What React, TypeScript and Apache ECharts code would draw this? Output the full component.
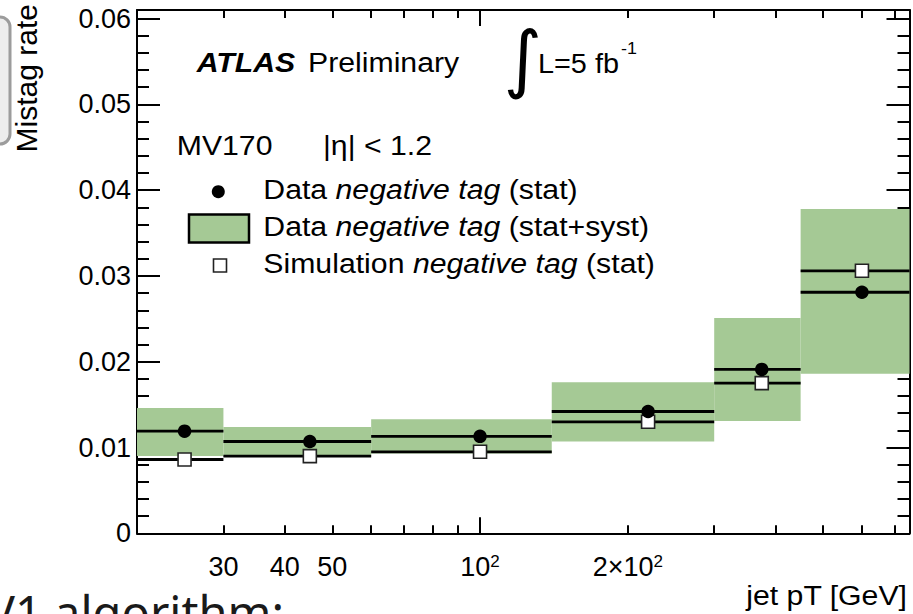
import React, { useEffect, useRef } from 'react';
import * as echarts from 'echarts';

// ---- data ----
const binLow = [20, 30, 60, 140, 300, 450];
const binHigh = [30, 60, 140, 300, 450, 750];
const binCenter = [25, 45, 100, 220, 375, 600];
const dataRate = [0.0119, 0.0107, 0.0113, 0.0142, 0.0191, 0.0281];
const simRate = [0.0086, 0.009, 0.0095, 0.013, 0.0175, 0.0306];
const bandLow = [0.009, 0.0089, 0.0093, 0.0107, 0.0131, 0.0186];
const bandHigh = [0.0146, 0.0124, 0.0133, 0.0176, 0.0251, 0.0378];

// ---- axes ----
const xMin = 20;
const xMax = 750;
const yMin = 0;
const yMax = 0.061;
const xShortTicks = [30, 40, 50, 60, 70, 80, 90, 200, 300, 400, 500, 600, 700];
const xLongTicks = [100];
const xLabelValues = [30, 40, 50, 100, 200];
const xLabelTexts = ['30', '40', '50', '{b|10}{s|2}', '{b|2×10}{s|2}'];
const yMajorTicks = [0, 0.01, 0.02, 0.03, 0.04, 0.05, 0.06];
const yLabelTexts = ['0', '0.01', '0.02', '0.03', '0.04', '0.05', '0.06'];
const yMinorTicks = [
  0.002, 0.004, 0.006, 0.008, 0.012, 0.014, 0.016, 0.018, 0.022, 0.024, 0.026, 0.028,
  0.032, 0.034, 0.036, 0.038, 0.042, 0.044, 0.046, 0.048, 0.052, 0.054, 0.056, 0.058,
];

const FONT = "'Liberation Sans', Arial, Helvetica, sans-serif";
const BAND = '#a5c995';
const INK = '#000';

function findLabel(values: number[], texts: string[], v: number) {
  const i = values.findIndex((t) => Math.abs(t - v) <= Math.abs(t) * 1e-3 + 1e-9);
  return i >= 0 ? texts[i] : '';
}

const tickLine = { color: INK, width: 2 };

function xAxisDef(position: 'top' | 'bottom', ticks: number[], len: number, showLine: boolean, labels: boolean) {
  return {
    type: 'log',
    logBase: 10,
    min: xMin,
    max: xMax,
    position,
    axisLine: { show: showLine, onZero: false, lineStyle: { color: INK, width: 2 } },
    axisTick: { show: true, inside: true, length: len, lineStyle: tickLine, customValues: ticks },
    minorTick: { show: false },
    splitLine: { show: false },
    axisLabel: labels
      ? {
          show: true,
          customValues: xLabelValues,
          margin: 20,
          color: INK,
          fontFamily: FONT,
          fontSize: 27,
          formatter: (v: number) => findLabel(xLabelValues, xLabelTexts, v),
          rich: {
            b: { fontSize: 27, fontFamily: FONT, color: INK, lineHeight: 27 },
            s: { fontSize: 17, fontFamily: FONT, color: INK, lineHeight: 15, verticalAlign: 'top' },
          },
        }
      : { show: false },
  };
}

function yAxisDef(position: 'left' | 'right', ticks: number[], len: number, showLine: boolean, labels: boolean) {
  return {
    type: 'value',
    min: yMin,
    max: yMax,
    position,
    axisLine: { show: showLine, onZero: false, lineStyle: { color: INK, width: 2 } },
    axisTick: { show: true, inside: true, length: len, lineStyle: tickLine, customValues: ticks },
    minorTick: { show: false },
    splitLine: { show: false },
    axisLabel: labels
      ? {
          show: true,
          customValues: yMajorTicks,
          margin: 6,
          color: INK,
          fontFamily: FONT,
          fontSize: 27,
          formatter: (v: number) => findLabel(yMajorTicks, yLabelTexts, v),
        }
      : { show: false },
  };
}

const SX = 1.12; // horizontal stretch of the reference lettering

function txt(text: string, x: number, y: number, size: number, extra: any = {}, sx = SX) {
  return {
    type: 'text',
    x,
    y,
    scaleX: sx,
    silent: true,
    z: 100,
    style: {
      text,
      fill: INK,
      fontFamily: FONT,
      fontSize: size,
      align: 'left',
      verticalAlign: 'middle',
      ...extra,
    },
  };
}

const legendRich = {
  n: { fontFamily: FONT, fontSize: 27, fill: INK },
  i: { fontFamily: FONT, fontSize: 27, fontStyle: 'italic', fill: INK },
};

export default function App() {
  const ref = useRef<HTMLDivElement>(null);

  useEffect(() => {
    if (!ref.current) return;
    const chart = echarts.init(ref.current, undefined, { renderer: 'svg' });

    const bandData = binLow.map((lo, i) => [lo, binHigh[i], bandLow[i], bandHigh[i]]);
    const dataLineData = binLow.map((lo, i) => [lo, binHigh[i], dataRate[i]]);
    const simLineData = binLow.map((lo, i) => [lo, binHigh[i], simRate[i]]);
    const dataPts = binCenter.map((c, i) => [c, dataRate[i]]);
    const simPts = binCenter.map((c, i) => [c, simRate[i]]);

    const segRender = (params: any, api: any) => {
      const a = api.coord([api.value(0), api.value(2)]);
      const b = api.coord([api.value(1), api.value(2)]);
      return {
        type: 'line',
        shape: { x1: a[0], y1: a[1], x2: b[0], y2: b[1] },
        style: { stroke: INK, lineWidth: 2.8 },
      };
    };

    const option: any = {
      animation: false,
      backgroundColor: '#fff',
      grid: {
        left: 137,
        right: 3.5,
        top: 10,
        bottom: 80.7,
        containLabel: false,
        outerBoundsMode: 'none',
      },
      xAxis: [
        xAxisDef('bottom', xShortTicks, 8, true, true),
        xAxisDef('bottom', xLongTicks, 16, false, false),
        xAxisDef('top', xShortTicks, 8, true, false),
        xAxisDef('top', xLongTicks, 16, false, false),
      ],
      yAxis: [
        yAxisDef('left', yMajorTicks, 23, true, true),
        yAxisDef('left', yMinorTicks, 12, false, false),
        yAxisDef('right', yMajorTicks, 23, true, false),
        yAxisDef('right', yMinorTicks, 12, false, false),
      ],
      series: [
        {
          name: 'Data negative tag (stat+syst)',
          type: 'custom',
          xAxisIndex: 0,
          yAxisIndex: 0,
          encode: { x: [0, 1], y: [2, 3] },
          data: bandData,
          z: 1,
          renderItem: (params: any, api: any) => {
            const a = api.coord([api.value(0), api.value(3)]);
            const b = api.coord([api.value(1), api.value(2)]);
            return {
              type: 'rect',
              shape: { x: a[0], y: a[1], width: b[0] - a[0], height: b[1] - a[1] },
              style: { fill: BAND },
            };
          },
        },
        {
          name: 'Simulation negative tag (stat) bins',
          type: 'custom',
          xAxisIndex: 0,
          yAxisIndex: 0,
          encode: { x: [0, 1], y: 2 },
          data: simLineData,
          z: 2,
          renderItem: segRender,
        },
        {
          name: 'Simulation negative tag (stat)',
          type: 'scatter',
          xAxisIndex: 0,
          yAxisIndex: 0,
          data: simPts,
          symbol: 'rect',
          symbolSize: 13,
          z: 3,
          itemStyle: { color: '#fff', borderColor: '#222', borderWidth: 1.6, opacity: 1 },
        },
        {
          name: 'Data negative tag (stat) bins',
          type: 'custom',
          xAxisIndex: 0,
          yAxisIndex: 0,
          encode: { x: [0, 1], y: 2 },
          data: dataLineData,
          z: 4,
          renderItem: segRender,
        },
        {
          name: 'Data negative tag (stat)',
          type: 'scatter',
          xAxisIndex: 0,
          yAxisIndex: 0,
          data: dataPts,
          symbol: 'circle',
          symbolSize: 13.5,
          z: 5,
          itemStyle: { color: INK, opacity: 1 },
        },
      ],
      graphic: [
        // slide artefacts around the cropped figure
        {
          type: 'rect',
          silent: true,
          shape: { x: -30, y: 17, width: 40, height: 127, r: 10 },
          style: { fill: '#ededed', stroke: '#9c9c9c', lineWidth: 3 },
        },
        {
          type: 'text',
          silent: true,
          x: 284,
          y: 612,
          style: {
            text: 'MV1 algorithm:',
            fill: '#1a1a1a',
            fontFamily: "'Noto Sans', 'Open Sans', sans-serif",
            fontSize: 47,
            lineHeight: 30,
            align: 'right',
            verticalAlign: 'middle',
          },
        },
        // axis titles
        {
          type: 'text',
          silent: true,
          x: 26,
          y: 4,
          rotation: Math.PI / 2,
          style: {
            text: 'Mistag rate',
            fill: INK,
            fontFamily: FONT,
            fontSize: 30,
            align: 'right',
            verticalAlign: 'middle',
          },
        },
        txt('jet pT [GeV]', 907, 595.5, 27, { align: 'right' }),
        // ATLAS label
        txt('ATLAS', 196.7, 62.2, 27, { fontWeight: 'bold', fontStyle: 'italic' }),
        txt('Preliminary', 308, 62.2, 27),
        {
          type: 'text',
          silent: true,
          x: 523,
          y: 58,
          style: {
            text: '∫',
            fill: INK,
            fontFamily: "'DejaVu Sans', sans-serif",
            fontSize: 74,
            align: 'center',
            verticalAlign: 'middle',
          },
        },
        txt('L=5 fb', 538, 63, 28, {}, 1.03),
        txt('-1', 621, 48, 17, {}, 1.05),
        // legend
        txt('MV170', 176.7, 145.5, 27),
        txt('|η| < 1.2', 323, 145.5, 27),
        {
          type: 'circle',
          silent: true,
          shape: { cx: 218.3, cy: 191.7, r: 6.5 },
          style: { fill: INK },
        },
        {
          type: 'rect',
          silent: true,
          shape: { x: 189, y: 214.5, width: 60, height: 28 },
          style: { fill: BAND, stroke: INK, lineWidth: 2.5 },
        },
        {
          type: 'rect',
          silent: true,
          shape: { x: 213.5, y: 259, width: 13, height: 13 },
          style: { fill: '#fff', stroke: '#222', lineWidth: 1.6 },
        },
        txt('{n|Data }{i|negative tag}{n| (stat)}', 263.3, 189.8, 27, { rich: legendRich }),
        txt('{n|Data }{i|negative tag}{n| (stat+syst)}', 263.3, 226.5, 27, { rich: legendRich }),
        txt('{n|Simulation }{i|negative tag}{n| (stat)}', 263.3, 263.5, 27, { rich: legendRich }),
      ],
    };

    chart.setOption(option);
    return () => {
      chart.dispose();
    };
  }, []);

  return (
    <div
      ref={ref}
      style={{ position: 'fixed', left: 0, top: 0, width: 913, height: 614, background: '#fff' }}
    />
  );
}
